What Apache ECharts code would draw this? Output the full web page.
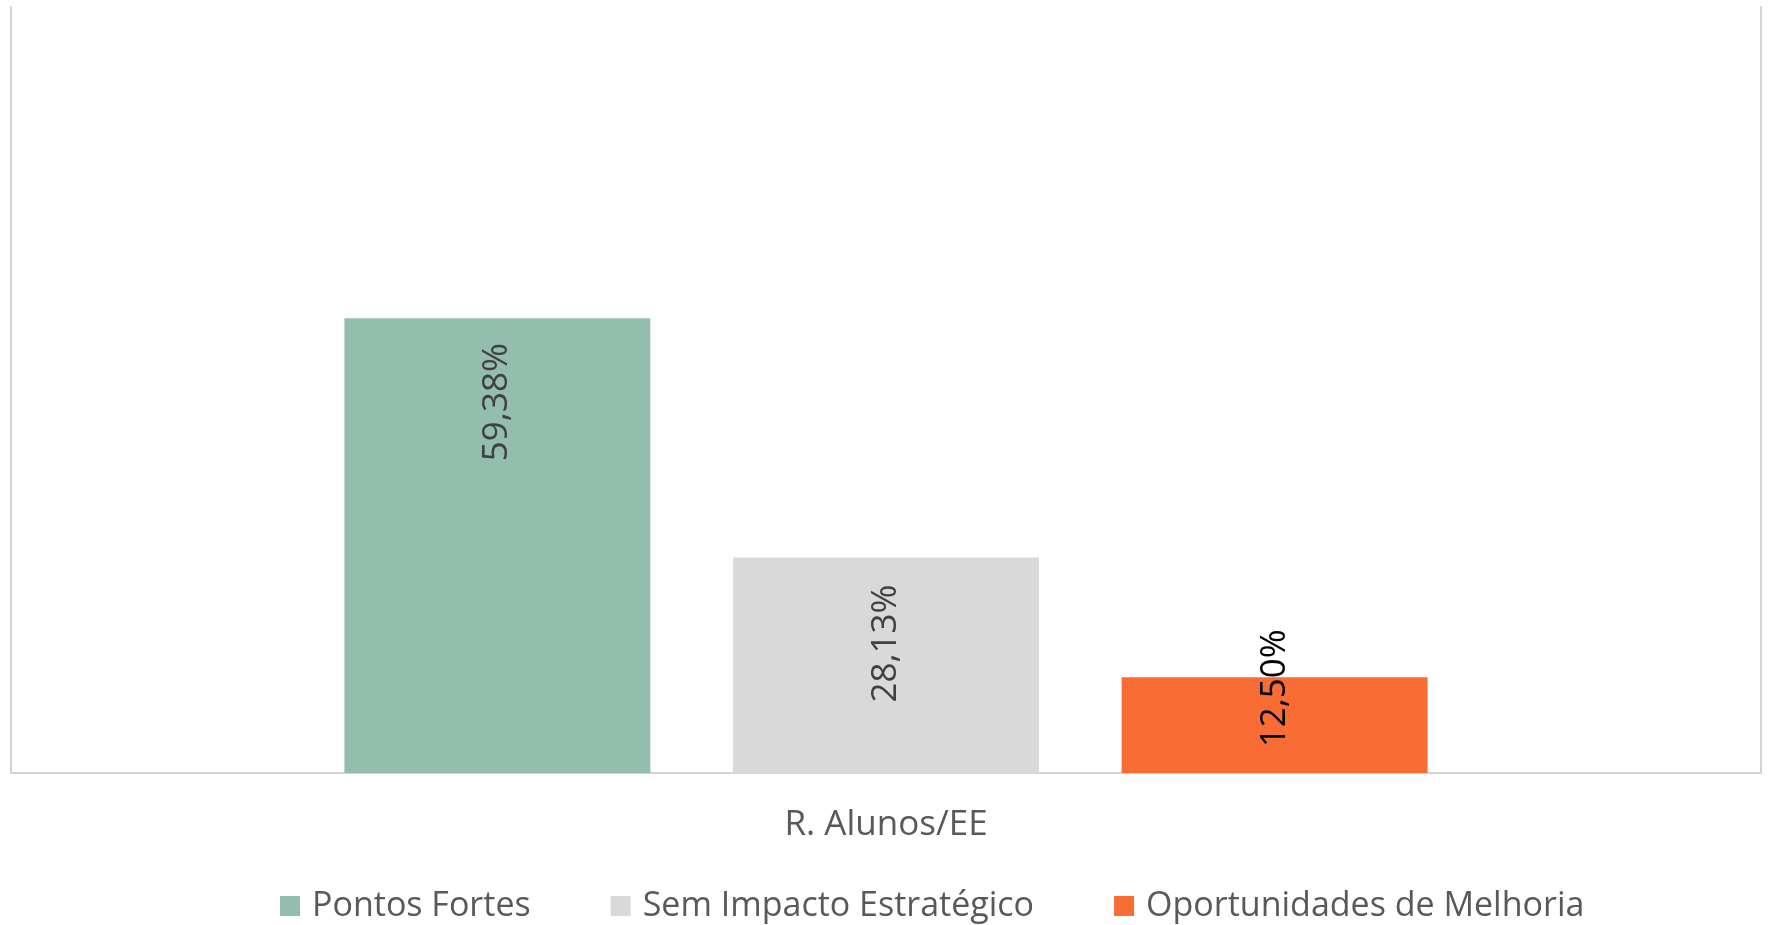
<!DOCTYPE html>
<html>
<head>
<meta charset="utf-8">
<script src="https://cdn.jsdelivr.net/npm/echarts@6/dist/echarts.min.js"></script>
<style>
  html, body { margin: 0; padding: 0; background: #ffffff; }
  #chart { width: 1769px; height: 925px; }
</style>
</head>
<body>
<div id="chart"></div>
<script>
const categories = ['R. Alunos/EE'];
const seriesNames = ['Pontos Fortes', 'Sem Impacto Estratégico', 'Oportunidades de Melhoria'];
const pontosFortes = [59.38];
const semImpacto = [28.13];
const oportunidades = [12.50];

const colors = ['#93BEAE', '#D9D9D9', '#F96C33'];
const labelColors = ['#404040', '#404040', '#000000'];
const labelOffsets = [25, 27, -48];
const values = [pontosFortes, semImpacto, oportunidades];

const chart = echarts.init(document.getElementById('chart'), null, { renderer: 'canvas' });

const series = seriesNames.map((name, i) => ({
  name: name,
  type: 'bar',
  barWidth: 306,
  barGap: '27%',
  itemStyle: { color: colors[i] },
  label: {
    show: true,
    position: ['50%', labelOffsets[i]],
    rotate: 90,
    align: 'right',
    verticalAlign: 'middle',
    color: labelColors[i],
    fontFamily: '"Open Sans", sans-serif',
    fontSize: 35,
    formatter: p => p.value.toFixed(2).replace('.', ',') + '%'
  },
  data: values[i]
}));

chart.setOption({
  animation: false,
  backgroundColor: '#ffffff',
  grid: { left: 11, right: 8, top: 7, bottom: 152 },
  legend: {
    left: 275,
    top: 884,
    itemWidth: 20,
    itemHeight: 20,
    itemGap: 80,
    icon: 'rect',
    textStyle: { color: '#595959', fontFamily: '"Open Sans", sans-serif', fontSize: 34, padding: [0, 0, 0, 7] },
    data: seriesNames
  },
  xAxis: {
    type: 'category',
    data: categories,
    axisLine: { show: true, lineStyle: { color: '#D4D4D4', width: 2 } },
    axisTick: { show: false },
    axisLabel: { color: '#595959', fontFamily: '"Open Sans", sans-serif', fontSize: 35, margin: 35 }
  },
  yAxis: [
    {
      type: 'value', min: 0, max: 100, position: 'left',
      axisLine: { show: true, lineStyle: { color: '#D4D4D4', width: 2 } },
      axisLabel: { show: false }, axisTick: { show: false }, splitLine: { show: false }
    },
    {
      type: 'value', min: 0, max: 100, position: 'right',
      axisLine: { show: true, lineStyle: { color: '#D4D4D4', width: 2 } },
      axisLabel: { show: false }, axisTick: { show: false }, splitLine: { show: false }
    }
  ],
  series: series
});
</script>
</body>
</html>
